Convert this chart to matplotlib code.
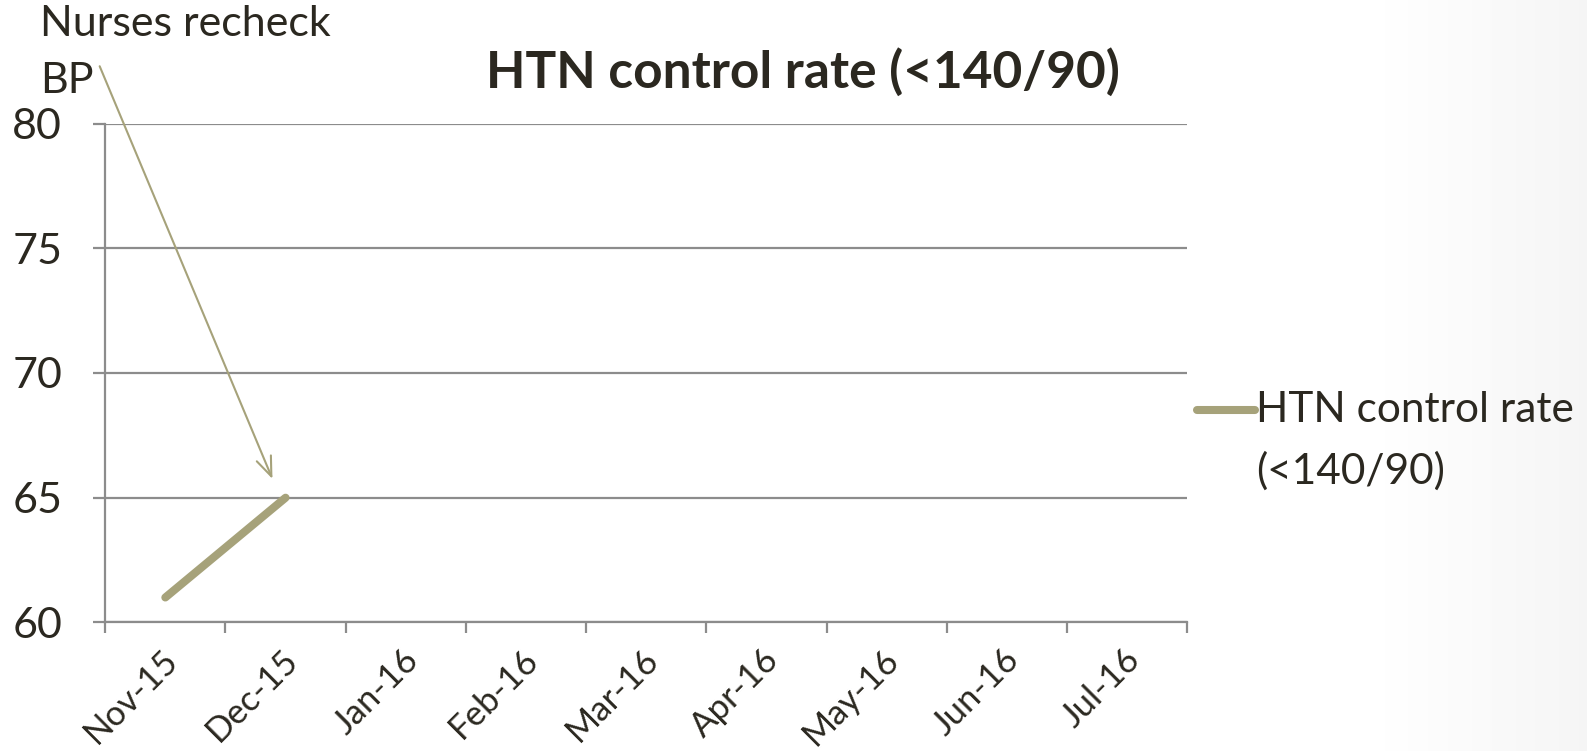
import numpy as np
import matplotlib.pyplot as plt
import matplotlib.transforms as mtransforms
from matplotlib.lines import Line2D

# データ
months = ['Nov-15', 'Dec-15', 'Jan-16', 'Feb-16', 'Mar-16', 'Apr-16', 'May-16', 'Jun-16', 'Jul-16']
rate = [61, 65]
yticks = [60, 65, 70, 75, 80]
series_name = 'HTN control rate\n(<140/90)'

plt.rcParams['font.family'] = ['Lato', 'DejaVu Sans']
txt = '#2b2820'
grid = '#8c8c8c'
olive = '#a6a27a'

fig = plt.figure(figsize=(15.87, 7.51), dpi=100)

# 右端のうっすらしたグラデーション
bg = fig.add_axes([0, 0, 1, 1], zorder=-10)
g = np.clip((np.linspace(0, 1, 400) - 0.86) / 0.14, 0, 1)[None, :]
bg.imshow(1 - 0.04 * g, cmap='gray', vmin=0, vmax=1, aspect='auto', extent=[0, 1, 0, 1])
bg.axis('off')

ax = fig.add_axes([0.0663, 0.1712, 0.6818, 0.6643])
ax.patch.set_alpha(0)

x = np.arange(len(months))
ax.plot(x[:len(rate)], rate, color=olive, lw=5.8, solid_capstyle='round')

ax.set_xlim(-0.5, len(months) - 0.5)
ax.set_ylim(60, 80)
ax.set_yticks(yticks)
ax.yaxis.grid(True, color=grid, lw=1.6)
ax.set_axisbelow(True)

# 目盛りは区切り、ラベルは中央
ax.set_xticks(np.arange(len(months) + 1) - 0.5)
ax.set_xticklabels([])
ax.set_xticks(x, minor=True)
ax.set_xticklabels(months, minor=True, rotation=45, ha='right', rotation_mode='anchor',
                   fontsize=25, color=txt)
ax.tick_params(axis='x', which='major', length=8, width=1.6, color=grid)
ax.tick_params(axis='x', which='minor', length=0, pad=15)
ax.tick_params(axis='y', length=9, width=1.6, color=grid, labelsize=31, labelcolor=txt, pad=22)
off = mtransforms.ScaledTranslation(-0.04, 0, fig.dpi_scale_trans)
for lab in ax.get_xticklabels(minor=True):
    lab.set_transform(lab.get_transform() + off)

for s in ['top', 'right']:
    ax.spines[s].set_visible(False)
ax.spines['left'].set_color(grid)
ax.spines['left'].set_linewidth(1.6)
ax.spines['bottom'].set_color(grid)
ax.spines['bottom'].set_linewidth(1.6)

fig.text(0.506, 0.903, 'HTN control rate (<140/90)', ha='center', va='center',
         fontsize=37, fontweight='bold', color=txt)

fig.text(0.025, 0.876, 'Nurses recheck\nBP', ha='left', va='baseline', fontsize=31,
         color=txt, linespacing=1.62)
ax.annotate('', xy=(0.9, 65.65), xytext=(-0.555, 82.4), annotation_clip=False,
            arrowprops=dict(arrowstyle='->,head_length=1.4,head_width=0.55', color=olive, lw=1.5))

# 凡例
fig.add_artist(Line2D([0.7543, 0.7908], [0.454, 0.454], color=olive, lw=5.8,
                      solid_capstyle='round', transform=fig.transFigure))
fig.text(0.7915, 0.356, series_name, ha='left', va='baseline', fontsize=30.5,
         color=txt, linespacing=1.68)

fig.savefig('out.png', dpi=100)
